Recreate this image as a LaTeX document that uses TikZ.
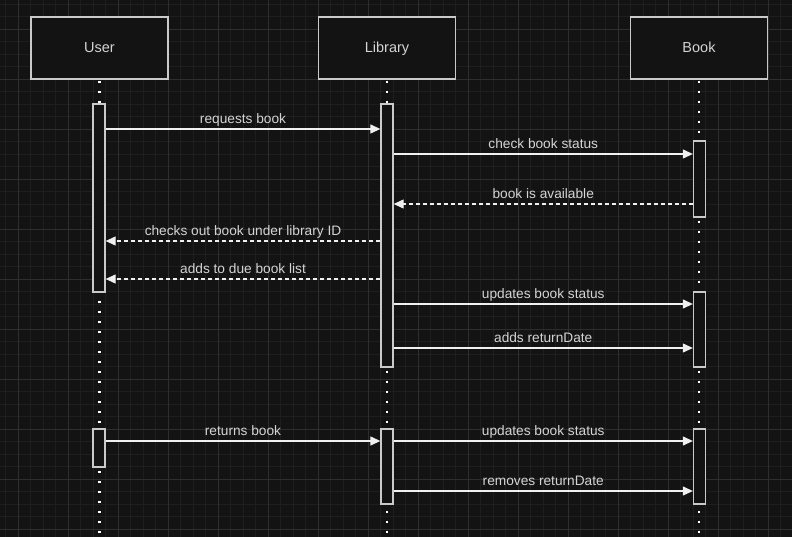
\documentclass[tikz,border=0pt]{standalone}
\usepackage{fontspec}
\setmainfont{Liberation Sans}
\usetikzlibrary{arrows.meta,calc}
\definecolor{bg}{HTML}{131313}
\definecolor{minorgrid}{HTML}{1E1E1E}
\definecolor{majorgrid}{HTML}{2E2E2E}
\definecolor{boxline}{HTML}{CACACA}
\definecolor{txt}{HTML}{D4D4D4}
\definecolor{arrowc}{HTML}{F0F0F0}
\tikzset{
  actor/.style={draw=boxline, fill=bg, line width=1.5pt, minimum width=137pt, minimum height=62pt, inner sep=0pt, text=txt, font=\fontsize{14.5}{17}\selectfont, text height=12pt, text depth=2pt},
  act/.style={draw=boxline, fill=bg, line width=1.3pt, minimum width=12pt, inner sep=0pt},
  lifeline/.style={draw=white, line width=2.2pt, dash pattern=on 2.2pt off 7.8pt, dash phase=-1pt},
  msg/.style={draw=arrowc, line width=1.1pt, -{Triangle[length=10pt,width=9pt,fill=arrowc]}},
  ret/.style={msg, dash pattern=on 4pt off 3pt},
  lbl/.style={text=txt, font=\fontsize{13.7}{16}\selectfont, anchor=base, yshift=5.5pt, inner sep=0pt},
}
\begin{document}
\begin{tikzpicture}[x=1pt,y=-1pt]
\useasboundingbox (0,0) rectangle (792,537);
\fill[bg] (0,0) rectangle (792,537);
% grid
\foreach \i in {0,...,63} {\draw[minorgrid, line width=0.8pt] ({5.5+12.5*\i},0) -- ({5.5+12.5*\i},537);}
\foreach \i in {0,...,43} {\draw[minorgrid, line width=0.8pt] (0,{4+12.5*\i}) -- (792,{4+12.5*\i});}
\foreach \i in {0,...,15} {\draw[majorgrid, line width=0.9pt] ({18+50*\i},0) -- ({18+50*\i},537);}
\foreach \i in {0,...,10} {\draw[majorgrid, line width=0.9pt] (0,{29+50*\i}) -- (792,{29+50*\i});}
% participants
\node[actor] (user) at (99.5,48) {User};
\node[actor] (lib) at (387,48) {Library};
\node[actor] (book) at (699,48) {Book};
\coordinate (bottom) at (0,540);
% lifelines
\draw[lifeline] (user.south) -- (user.south |- bottom);
\draw[lifeline] (lib.south) -- (lib.south |- bottom);
\draw[lifeline] (book.south) -- (book.south |- bottom);
% activations
\node[act, minimum height=188pt] (uact1) at (99,198) {};
\node[act, minimum height=38pt] (uact2) at (99,448) {};
\node[act, minimum height=263pt] (lact1) at (387,235.5) {};
\node[act, minimum height=75pt] (lact2) at (387,466.5) {};
\node[act, minimum height=76pt] (bact1) at (699.5,179) {};
\node[act, minimum height=75pt] (bact2) at (699.5,329.5) {};
\node[act, minimum height=75pt] (bact3) at (699.5,466.5) {};
% message heights
\coordinate (m1) at (0,129);
\coordinate (m2) at (0,154);
\coordinate (m3) at (0,204);
\coordinate (m4) at (0,241);
\coordinate (m5) at (0,279);
\coordinate (m6) at (0,304);
\coordinate (m7) at (0,348);
\coordinate (m8) at (0,441);
\coordinate (m10) at (0,491);
% messages
\draw[msg] (uact1.east |- m1) -- node[lbl] {requests book} (lact1.west |- m1);
\draw[msg] (lact1.east |- m2) -- node[lbl] {check book status} (bact1.west |- m2);
\draw[ret] (bact1.west |- m3) -- node[lbl] {book is available} (lact1.east |- m3);
\draw[ret] (lact1.west |- m4) -- node[lbl] {checks out book under library ID} (uact1.east |- m4);
\draw[ret] (lact1.west |- m5) -- node[lbl] {adds to due book list} (uact1.east |- m5);
\draw[msg] (lact1.east |- m6) -- node[lbl] {updates book status} (bact2.west |- m6);
\draw[msg] (lact1.east |- m7) -- node[lbl] {adds returnDate} (bact2.west |- m7);
\draw[msg] (uact2.east |- m8) -- node[lbl] {returns book} (lact2.west |- m8);
\draw[msg] (lact2.east |- m8) -- node[lbl] {updates book status} (bact3.west |- m8);
\draw[msg] (lact2.east |- m10) -- node[lbl] {removes returnDate} (bact3.west |- m10);
\end{tikzpicture}
\end{document}
